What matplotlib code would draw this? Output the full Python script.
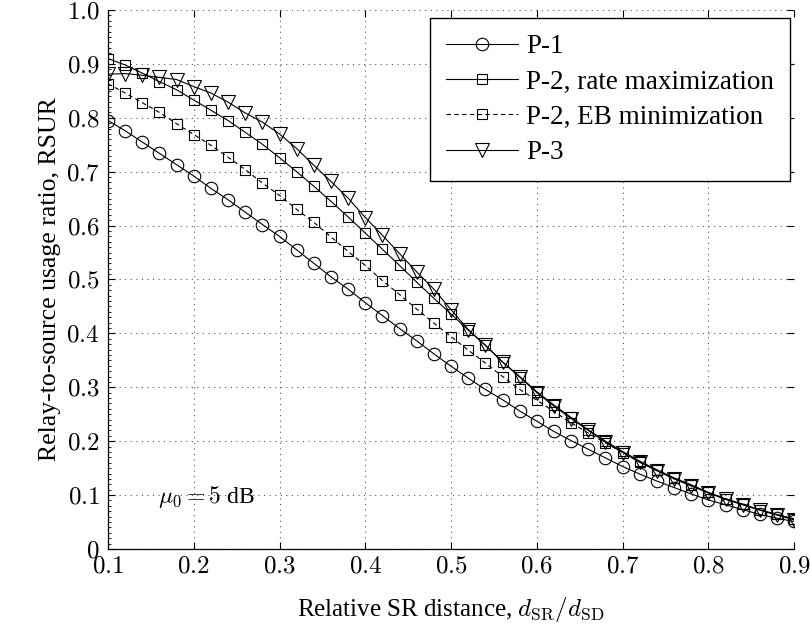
import numpy as np
import matplotlib
matplotlib.use("Agg")
import matplotlib.pyplot as plt
from matplotlib.ticker import MultipleLocator, FixedLocator, FixedFormatter

# Relative source-relay distance d_SR / d_SD
distance = np.round(np.arange(0.10, 0.9001, 0.02), 2)

p1 = [0.795, 0.776, 0.755, 0.734, 0.713, 0.692, 0.669, 0.648, 0.625, 0.602,
      0.580, 0.555, 0.530, 0.505, 0.482, 0.457, 0.433, 0.409, 0.386, 0.362,
      0.339, 0.317, 0.296, 0.277, 0.256, 0.237, 0.218, 0.201, 0.185, 0.169,
      0.153, 0.139, 0.126, 0.114, 0.102, 0.091, 0.082, 0.073, 0.064, 0.057,
      0.051]

p2_rate = [0.910, 0.898, 0.883, 0.867, 0.852, 0.833, 0.814, 0.795, 0.773, 0.751,
           0.726, 0.700, 0.673, 0.645, 0.616, 0.586, 0.556, 0.526, 0.495, 0.465,
           0.436, 0.406, 0.378, 0.347, 0.320, 0.292, 0.267, 0.244, 0.221, 0.200,
           0.181, 0.163, 0.147, 0.132, 0.119, 0.105, 0.093, 0.083, 0.073, 0.064,
           0.056]

p2_eb = [0.863, 0.846, 0.828, 0.810, 0.789, 0.769, 0.749, 0.727, 0.704, 0.679,
         0.656, 0.630, 0.606, 0.579, 0.552, 0.526, 0.498, 0.472, 0.445, 0.419,
         0.394, 0.369, 0.345, 0.320, 0.296, 0.276, 0.255, 0.234, 0.215, 0.197,
         0.179, 0.161, 0.146, 0.131, 0.118, 0.105, 0.093, 0.083, 0.073, 0.064,
         0.055]

p3 = [0.881, 0.882, 0.879, 0.875, 0.871, 0.858, 0.846, 0.829, 0.809, 0.792,
      0.770, 0.743, 0.712, 0.682, 0.651, 0.615, 0.582, 0.548, 0.514, 0.482,
      0.444, 0.407, 0.378, 0.347, 0.319, 0.290, 0.265, 0.242, 0.220, 0.198,
      0.179, 0.161, 0.145, 0.130, 0.117, 0.104, 0.092, 0.082, 0.072, 0.063,
      0.054]

x_ticks = [0.1, 0.2, 0.3, 0.4, 0.5, 0.6, 0.7, 0.8, 0.9]
x_tick_labels = ["0.1", "0.2", "0.3", "0.4", "0.5", "0.6", "0.7", "0.8", "0.9"]
y_ticks = [0.0, 0.1, 0.2, 0.3, 0.4, 0.5, 0.6, 0.7, 0.8, 0.9, 1.0]
y_tick_labels = ["0", "0.1", "0.2", "0.3", "0.4", "0.5", "0.6", "0.7", "0.8", "0.9", "1.0"]

plt.rcParams["mathtext.fontset"] = "cm"
plt.rcParams["font.family"] = ["Liberation Serif", "DejaVu Serif"]

fig = plt.figure(figsize=(8.12, 6.30), dpi=100)
ax = fig.add_axes([0.133, 0.1286, 0.845, 0.8555])

lw = 0.8
common = dict(color="black", linewidth=lw, markerfacecolor="none",
              markeredgecolor="black", markeredgewidth=0.8)

ax.plot(distance, p1, marker="o", markersize=9, linestyle="-",
        label="P-1", **common)
ax.plot(distance, p2_rate, marker="s", markersize=7.5, linestyle="-",
        label="P-2, rate maximization", **common)
ax.plot(distance, p2_eb, marker="s", markersize=7.5, linestyle=(0, (4, 3)),
        label="P-2, EB minimization", **common)
ax.plot(distance, p3, marker="v", markersize=9.5, linestyle="-",
        label="P-3", **common)

ax.set_xlim(0.1, 0.9)
ax.set_ylim(0.0, 1.0)

ax.xaxis.set_major_locator(FixedLocator(x_ticks))
ax.xaxis.set_major_formatter(FixedFormatter(["$%s$" % t for t in x_tick_labels]))
ax.yaxis.set_major_locator(FixedLocator(y_ticks))
ax.yaxis.set_major_formatter(FixedFormatter(["$%s$" % t for t in y_tick_labels]))
ax.yaxis.set_minor_locator(MultipleLocator(0.01))

ax.tick_params(axis="both", which="major", direction="in", length=5,
               width=0.8, labelsize=18, top=True, right=True)
ax.tick_params(axis="x", which="major", pad=5)
ax.tick_params(axis="y", which="major", pad=6)
ax.tick_params(axis="y", which="minor", direction="in", length=2.5, width=0.6)

for side in ("top", "right"):
    ax.spines[side].set_visible(False)
for side in ("left", "bottom"):
    ax.spines[side].set_linewidth(0.9)

ax.grid(True, which="major", color="#555555", linestyle=(0, (1, 4)), linewidth=0.8)
ax.set_axisbelow(True)

ax.set_xlabel(r"Relative SR distance, $d_{\mathrm{SR}}/d_{\mathrm{SD}}$",
              fontsize=18, labelpad=12)
ax.set_ylabel("Relay-to-source usage ratio, RSUR", fontsize=18.5, labelpad=4)

ax.text(0.158, 0.096, r"$\mu_0 = 5$ dB", fontsize=17, va="center", ha="left")

leg = ax.legend(loc="upper right", bbox_to_anchor=(0.994, 0.985),
                borderaxespad=0, fontsize=19.5, fancybox=False, framealpha=1,
                edgecolor="black", handlelength=2.65, handletextpad=0.3,
                labelspacing=0.38, borderpad=0.6)
leg.get_frame().set_linewidth(1.0)

fig.savefig("out.png", dpi=100)
